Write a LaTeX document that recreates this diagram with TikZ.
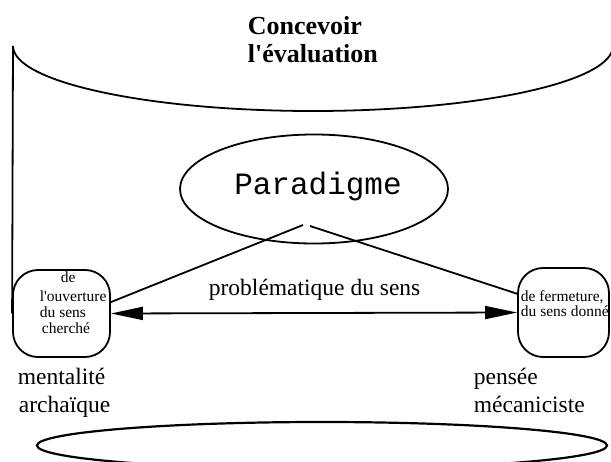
\documentclass[tikz,border=0pt]{standalone}
\usepackage{fontspec}
\setmainfont{Liberation Serif}
\newfontfamily\codefont{Liberation Mono}
\usetikzlibrary{shapes.geometric,arrows.meta}

\begin{document}
\begin{tikzpicture}[x=1pt,y=-1pt,
  line width=1.8pt,
  txt/.style={inner sep=0pt, anchor=base west},
  smalltxt/.style={txt, font=\fontsize{15.5}{16}\selectfont},
  largetxt/.style={txt, font=\fontsize{23.5}{28}\selectfont},
  titletxt/.style={txt, font=\bfseries\fontsize{26}{28}\selectfont},
  sensbox/.style={draw, rounded corners=25pt, inner sep=0pt},
  tip/.tip={Triangle[length=32pt,width=13pt]}]
\useasboundingbox (0,0) rectangle (611,462);
\clip (0,0) rectangle (611,462);

% title
\node[titletxt] (t1) at (247,35) {Concevoir};
\node[titletxt] (t2) at (247,63) {l\textquotesingle évaluation};

% upper bowl and its left wall
\coordinate (topL) at (13,46);
\draw (topL) arc[start angle=180, end angle=360, x radius=300pt, y radius=65pt];

% central paradigm
\node[draw, ellipse, minimum width=268pt, minimum height=109pt, inner sep=0pt] (para) at (314,189) {};
\node[inner sep=0pt, anchor=base, font=\codefont\fontsize{31}{31}\selectfont] (paratxt) at (318,195) {Paradigme};
\coordinate (apexL) at (303,225);
\coordinate (apexR) at (310,226);

% the two poles
\node[sensbox, minimum width=97pt, minimum height=87pt] (lbox) at (61.5,313.5) {};
\node[sensbox, minimum width=91pt, minimum height=89pt] (rbox) at (563.5,312.5) {};

\node[smalltxt] (l1) at (60,283) {de};
\node[smalltxt] (l2) at (39,302) {l\textquotesingle ouverture};
\node[smalltxt] (l3) at (39,318) {du sens};
\node[smalltxt] (l4) at (41,334) {cherché};

\node[smalltxt] (r1) at (520,302) {de fermeture,};
\node[smalltxt] (r2) at (520,317) {du sens donné};

\draw (topL) -- (lbox.west);
\draw (apexL) -- (lbox.13);
\draw (apexR) -- (rbox.158);
\draw[tip-tip] (lbox.east) -- (rbox.west);

\node[largetxt] (prob) at (208,296) {problématique du sens};

\node[largetxt] (m1) at (17,385) {mentalité};
\node[largetxt] (m2) at (18,413) {archaïque};
\node[largetxt] (p1) at (473,385) {pensée};
\node[largetxt] (p2) at (473,413) {mécaniciste};

% lower bowl
\node[draw, ellipse, line width=2.2pt, minimum width=570pt, minimum height=47pt, inner sep=0pt] (base) at (322,445.5) {};
\end{tikzpicture}
\end{document}
